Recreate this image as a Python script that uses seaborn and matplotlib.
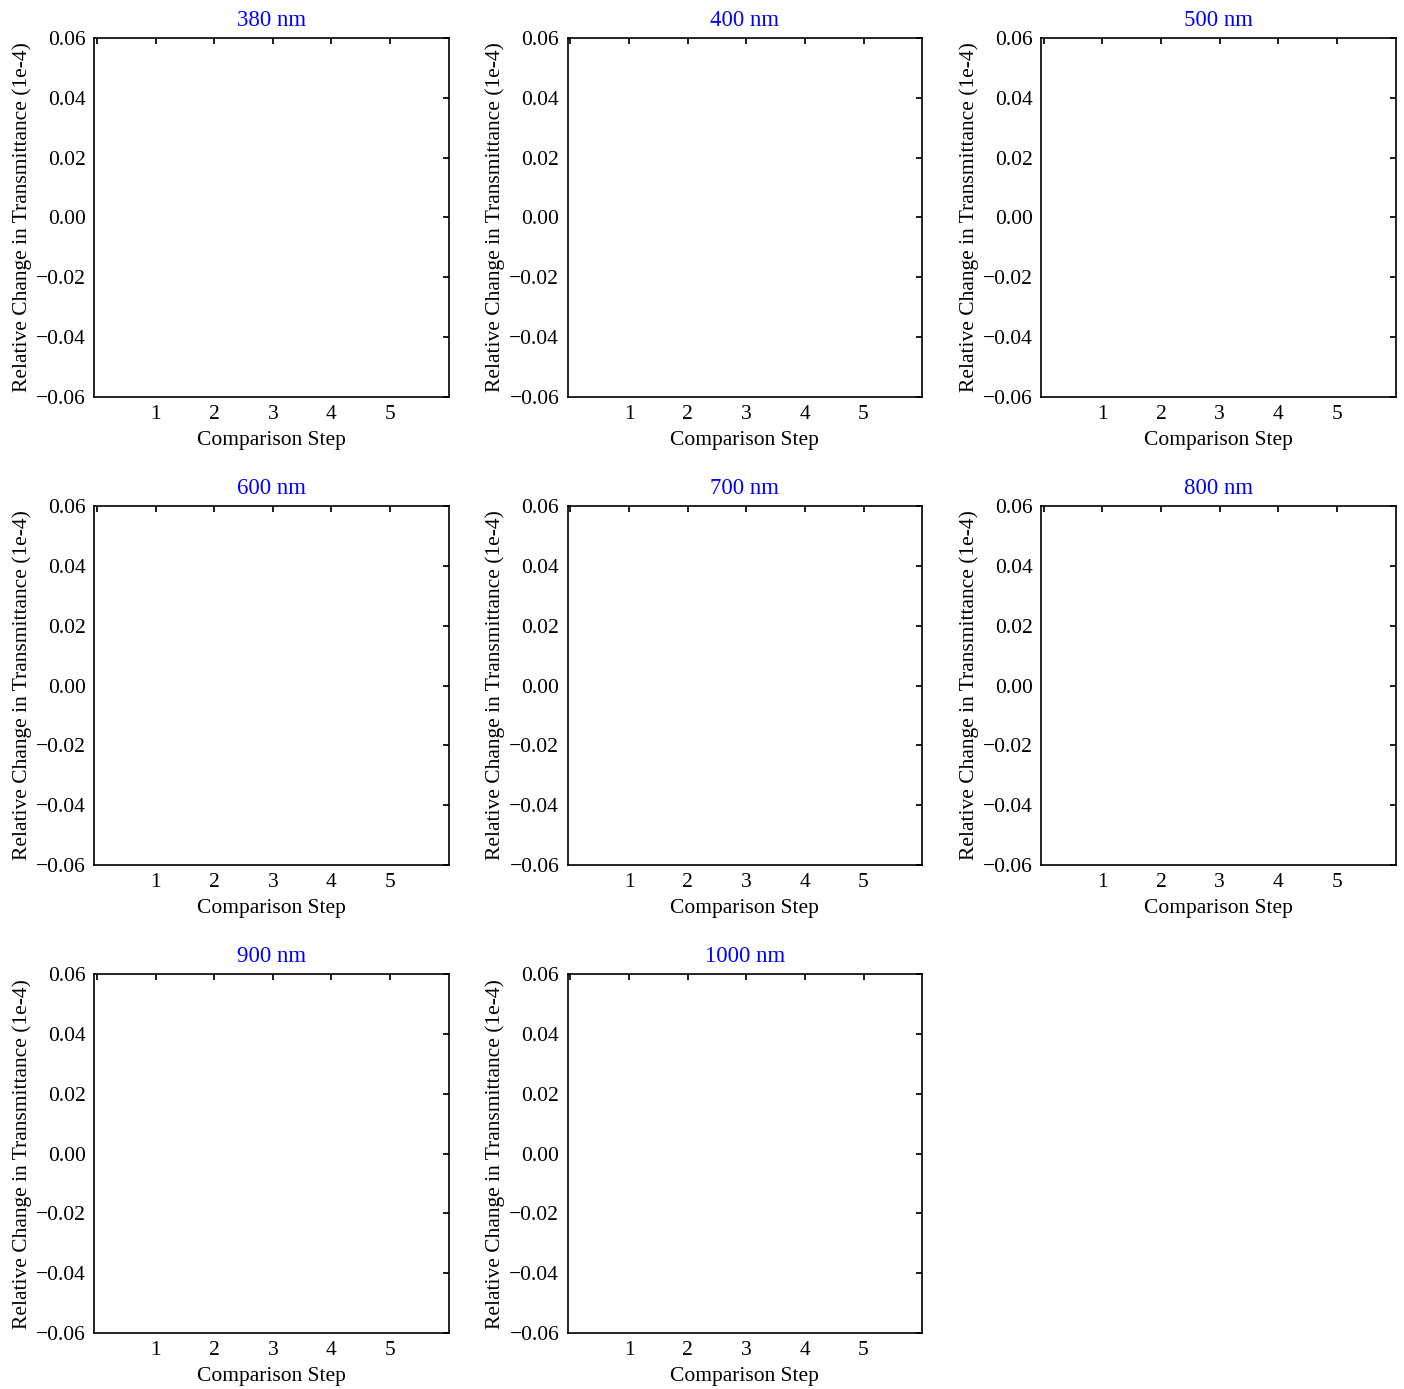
import numpy as np
import pandas as pd
import seaborn as sns
import matplotlib
matplotlib.use("Agg")
import matplotlib.pyplot as plt

# Wavelengths shown in the panels (no data points are visible in the chart)
wavelengths = [380, 400, 500, 600, 700, 800, 900, 1000]
steps = [1, 2, 3, 4, 5]
# Relative change in transmittance per wavelength (all series empty)
changes = {wl: [] for wl in wavelengths}

sns.set_theme(style="white")
plt.rcParams["font.family"] = ["Liberation Serif", "DejaVu Serif"]
plt.rcParams.update({
    "font.size": 15.5,
    "axes.edgecolor": "black",
    "axes.linewidth": 1.2,
    "xtick.direction": "in",
    "ytick.direction": "in",
    "xtick.top": True,
    "ytick.right": True,
    "xtick.major.size": 4,
    "ytick.major.size": 4,
    "xtick.color": "black",
    "ytick.color": "black",
    "axes.labelcolor": "black",
})

fig, axes = plt.subplots(3, 3, figsize=(14.04, 13.89), dpi=100)
fig.subplots_adjust(left=0.067, right=0.994, top=0.9726, bottom=0.0403,
                    wspace=0.335, hspace=0.305)

yticks = np.arange(-0.06, 0.0601, 0.02)

for ax, wl in zip(axes.flat, wavelengths):
    vals = changes[wl]
    if len(vals):
        df = pd.DataFrame({"step": steps[:len(vals)], "change": vals})
        sns.lineplot(data=df, x="step", y="change", ax=ax, marker="o")
    ax.set_xlim(-0.05, 6)
    ax.set_ylim(-0.06, 0.06)
    ax.set_xticks([0] + steps)
    ax.set_xticklabels([""] + [str(s) for s in steps])
    ax.set_yticks(yticks)
    ax.set_yticklabels([f"{v:.2f}".replace("-", "\u2212") if abs(v) > 1e-9 else "0.00"
                        for v in yticks])
    ax.tick_params(axis="both", which="major", pad=6, labelsize=15.5)
    ax.set_xlabel("Comparison Step", fontsize=15.5, labelpad=5)
    ax.set_ylabel("Relative Change in Transmittance (1e-4)", fontsize=15.5, labelpad=3)
    ax.set_title(f"{wl} nm", color="blue", fontsize=16.5, pad=9)
    for sp in ax.spines.values():
        sp.set_visible(True)
        sp.set_color("black")

axes.flat[-1].remove()

fig.savefig("out.png", dpi=100, facecolor="white")
